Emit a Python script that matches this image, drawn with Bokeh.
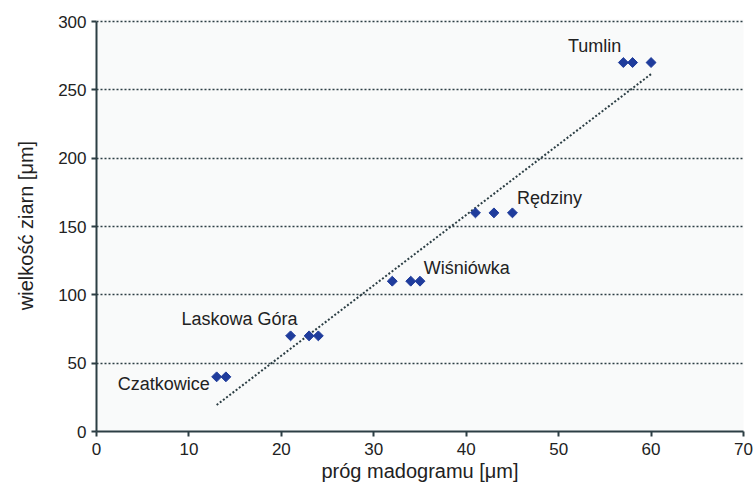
import numpy as np
from bokeh.plotting import figure
from bokeh.models import Range1d, ColumnDataSource, FixedTicker
from bokeh.core.properties import value
from bokeh.embed import file_html
from bokeh.resources import INLINE

# data
prog_madogramu = [13, 14, 21, 23, 24, 32, 34, 35, 41, 43, 45, 57, 58, 60]
wielkosc_ziarn = [40, 40, 70, 70, 70, 110, 110, 110, 160, 160, 160, 270, 270, 270]
site_names = ["Czatkowice", "Laskowa Góra", "Wiśniówka", "Rędziny", "Tumlin"]
site_label_x = [2.3, 9.2, 35.4, 45.5, 51.0]
site_label_y = [34.5, 82.5, 120.0, 171.0, 282.0]
x_ticks = [0, 10, 20, 30, 40, 50, 60, 70]
y_ticks = [0, 50, 100, 150, 200, 250, 300]

FONT = "Liberation Sans"
DARK = "#2c3e44"

p = figure(width=756, height=488, output_backend="svg", toolbar_location=None,
           x_range=Range1d(0, 70), y_range=Range1d(0, 301.5),
           min_border_left=96, min_border_right=13, min_border_top=19, min_border_bottom=57)
p.background_fill_color = "#f9fafa"
p.border_fill_color = "white"
p.outline_line_color = None

p.xgrid.grid_line_color = None
p.ygrid.grid_line_color = DARK
p.ygrid.grid_line_dash = "2 2"
p.ygrid.grid_line_width = 1.6
p.ygrid.ticker = FixedTicker(ticks=y_ticks)

for ax in (p.xaxis[0], p.yaxis[0]):
    ax.axis_line_color = DARK
    ax.axis_line_width = 2
    ax.major_tick_line_color = DARK
    ax.major_tick_line_width = 2
    ax.major_tick_out = 5
    ax.major_tick_in = 0
    ax.minor_tick_line_color = None
    ax.major_label_text_font = FONT
    ax.major_label_text_font_size = "17px"
    ax.major_label_text_color = "#222222"
    ax.axis_label_text_font = FONT
    ax.axis_label_text_font_size = "20px"
    ax.axis_label_text_font_style = "normal"
    ax.axis_label_text_color = "#222222"

p.yaxis.bounds = (0, 300)
p.xaxis.ticker = FixedTicker(ticks=x_ticks)
p.yaxis.ticker = FixedTicker(ticks=y_ticks)
p.xaxis.axis_label = "próg madogramu [μm]"
p.yaxis.axis_label = "wielkość ziarn [μm]"
p.xaxis.major_label_standoff = 6
p.yaxis.major_label_standoff = 5
p.xaxis.axis_label_standoff = 2
p.yaxis.axis_label_standoff = 18

# linear trend from data
slope, intercept = np.polyfit(prog_madogramu, wielkosc_ziarn, 1)
tx = [min(prog_madogramu), max(prog_madogramu)]
ty = [slope * t + intercept for t in tx]
p.line(tx, ty, line_color=DARK, line_dash="2 2", line_width=2)

src = ColumnDataSource(dict(x=prog_madogramu, y=wielkosc_ziarn))
p.scatter("x", "y", source=src, marker="square", size=7, angle=np.pi / 4,
          fill_color="#1f3c9c", line_color="#1f3c9c")

lsrc = ColumnDataSource(dict(x=site_label_x, y=site_label_y, t=site_names))
p.text("x", "y", text="t", source=lsrc, text_font=value(FONT),
       text_font_size="18px", text_color="#222222", text_baseline="middle",
       text_align="left")

open("out.html", "w").write(file_html(p, INLINE))
